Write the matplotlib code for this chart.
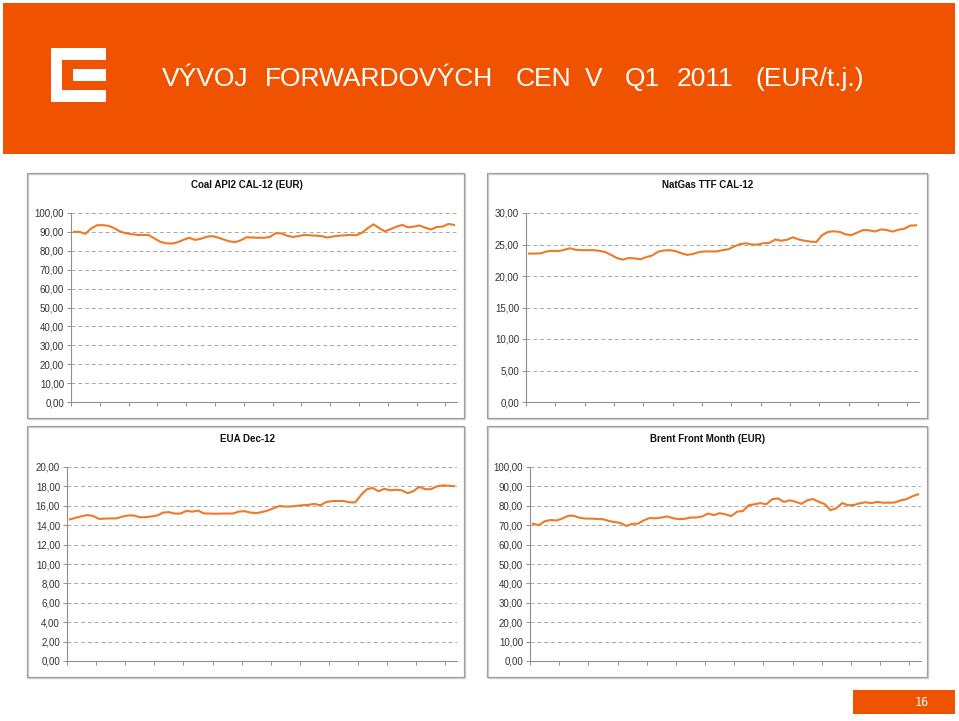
import matplotlib
matplotlib.use("Agg")
import matplotlib.pyplot as plt
from matplotlib.patches import Rectangle
from matplotlib.ticker import FuncFormatter, MultipleLocator, FixedLocator

plt.rcParams['font.family'] = ['Liberation Sans', 'DejaVu Sans']

# ---------------- data (daily quotes, Q1 2011) ----------------
coal = [90.0, 90.0, 89.0, 91.8, 93.5, 93.6, 93.2, 92.0, 90.2, 89.3,
        88.8, 88.4, 88.4, 88.3, 86.5, 84.8, 84.0, 83.8, 84.5, 85.8,
        86.9, 85.8, 86.3, 87.4, 87.8, 87.0, 86.0, 85.0, 84.6, 85.6,
        87.2, 87.0, 86.9, 86.9, 87.3, 89.3, 89.2, 88.0, 87.3, 87.8,
        88.4, 88.2, 88.0, 87.8, 87.0, 87.6, 88.0, 88.2, 88.4, 88.2,
        89.5, 92.0, 94.0, 92.0, 90.3, 91.5, 92.8, 93.7, 92.4, 92.8,
        93.4, 92.2, 91.3, 92.6, 92.8, 94.2, 93.7]

natgas = [23.56, 23.56, 23.6, 23.9, 24.0, 23.95, 24.15, 24.4, 24.15, 24.1,
          24.1, 24.1, 24.0, 23.8, 23.35, 22.85, 22.6, 22.85, 22.8, 22.65,
          23.0, 23.25, 23.85, 24.05, 24.1, 23.95, 23.6, 23.35, 23.5, 23.8,
          23.9, 23.9, 23.9, 24.1, 24.25, 24.7, 25.05, 25.2, 25.0, 25.0,
          25.2, 25.25, 25.8, 25.6, 25.75, 26.15, 25.8, 25.6, 25.45, 25.4,
          26.5, 27.0, 27.1, 27.0, 26.6, 26.5, 26.9, 27.3, 27.25, 27.05,
          27.4, 27.3, 27.05, 27.35, 27.5, 28.0, 28.05]

eua = [14.6, 14.77, 14.92, 15.05, 14.95, 14.65, 14.68, 14.7, 14.7, 14.88,
       15.0, 15.0, 14.82, 14.83, 14.9, 15.0, 15.3, 15.35, 15.2, 15.2,
       15.48, 15.4, 15.5, 15.22, 15.2, 15.18, 15.2, 15.2, 15.2, 15.4,
       15.45, 15.3, 15.25, 15.35, 15.52, 15.75, 15.98, 15.92, 15.93, 16.0,
       16.06, 16.1, 16.2, 16.05, 16.38, 16.48, 16.5, 16.5, 16.36, 16.35,
       17.1, 17.7, 17.85, 17.5, 17.75, 17.6, 17.65, 17.6, 17.3, 17.5,
       17.95, 17.72, 17.7, 18.0, 18.1, 18.07, 18.02]

brent = [70.8, 70.0, 72.0, 72.7, 72.4, 73.4, 74.8, 74.9, 73.8, 73.4,
         73.4, 73.2, 73.1, 72.2, 71.6, 71.2, 69.6, 70.7, 70.8, 72.5,
         73.7, 73.5, 73.9, 74.5, 73.6, 73.1, 73.3, 73.9, 74.0, 74.5,
         76.0, 75.2, 76.2, 75.6, 74.7, 77.0, 77.3, 80.3, 80.8, 81.4,
         80.8, 83.4, 83.8, 82.0, 82.8, 82.1, 81.0, 82.8, 83.5, 82.0,
         80.9, 77.7, 78.8, 81.4, 80.3, 80.4, 81.3, 81.8, 81.4, 82.0,
         81.6, 81.6, 81.7, 82.8, 83.4, 84.9, 85.9]

titles = ["Coal API2 CAL-12 (EUR)", "NatGas TTF CAL-12", "EUA Dec-12", "Brent Front Month (EUR)"]
y_max = [100, 30, 20, 100]
y_step = [10, 5, 2, 10]
header_words = ["VÝVOJ", "FORWARDOVÝCH", "CEN", "V", "Q1", "2011", "(EUR/t.j.)"]
header_x = [162, 265, 516, 585, 625, 677, 755]
page_number = "16"

# ---------------- figure ----------------
W, H = 959, 721
fig = plt.figure(figsize=(W / 100, H / 100), dpi=100)
bg = fig.add_axes([0, 0, 1, 1])
bg.set_xlim(0, W)
bg.set_ylim(H, 0)
bg.axis('off')

ORANGE = '#F05300'
LINE = '#EC7A26'

# header banner
bg.add_patch(Rectangle((3, 3), 952, 151, color=ORANGE, lw=0))
# logo "E"
for (x0, y0, x1, y1) in [(51, 48, 62, 102), (51, 48, 106, 60), (73, 69, 106, 81), (51, 90, 106, 102)]:
    bg.add_patch(Rectangle((x0, y0), x1 - x0, y1 - y0, color='white', lw=0))
for w, x in zip(header_words, header_x):
    bg.text(x, 79, w, color='white', fontsize=19, ha='left', va='center')

# page number box
bg.add_patch(Rectangle((853, 690), 102, 24, color=ORANGE, lw=0))
bg.text(922, 702, page_number, color='white', fontsize=8.5, ha='center', va='center',
        family='DejaVu Sans Mono')

# panel frames and titles
frames = [(27, 173, 464, 418), (487, 173, 927, 418), (27, 426, 464, 677), (487, 426, 927, 677)]
title_pos = [(247, 185), (708, 185), (247, 439), (708, 439)]
for (x0, y0, x1, y1) in frames:
    bg.add_patch(Rectangle((x0 + 1, y0 + 1), x1 - x0, y1 - y0, fill=False, ec='#d0d0d0', lw=1.0))
    bg.add_patch(Rectangle((x0, y0), x1 - x0, y1 - y0, fill=False, ec='#a0a0a0', lw=0.9))
for t, (x, y) in zip(titles, title_pos):
    bg.text(x, y, t, fontsize=7, fontweight='bold', ha='center', va='center', color='#111111')

# plot areas in pixel coords (x0, ytop, x1, ybottom)
areas = [(71, 213, 457, 402), (526, 213, 919, 402), (67, 467, 457, 661), (530, 467, 921, 661)]
series = [coal, natgas, eua, brent]

fmt = FuncFormatter(lambda v, p: f"{v:.2f}".replace('.', ','))
for (x0, yt, x1, yb), s, ym, st in zip(areas, series, y_max, y_step):
    ax = fig.add_axes([x0 / W, 1 - yb / H, (x1 - x0) / W, (yb - yt) / H])
    ax.set_facecolor('none')
    n = len(s)
    xs = list(range(n))
    ax.plot(xs, s, color=LINE, lw=1.5, solid_joinstyle='round', zorder=3)
    ax.set_xlim(-0.5, n - 0.5)
    ax.set_ylim(0, ym)
    ax.yaxis.set_major_locator(MultipleLocator(st))
    ax.yaxis.set_major_formatter(fmt)
    ax.xaxis.set_major_locator(FixedLocator([-0.5 + 5 * i for i in range(14)]))
    ax.set_xticklabels([])
    ax.grid(axis='y', color='#a8a8a8', lw=0.7, linestyle=(0, (4, 3)))
    ax.set_axisbelow(True)
    for sp in ['top', 'right']:
        ax.spines[sp].set_visible(False)
    for sp in ['left', 'bottom']:
        ax.spines[sp].set_color('#909090')
        ax.spines[sp].set_linewidth(0.8)
    ax.tick_params(axis='y', length=3, width=0.7, color='#909090', labelsize=7,
                   labelcolor='#333333', pad=2)
    ax.tick_params(axis='x', length=3, width=0.7, color='#909090', direction='out')

fig.savefig('out.png', dpi=100)
